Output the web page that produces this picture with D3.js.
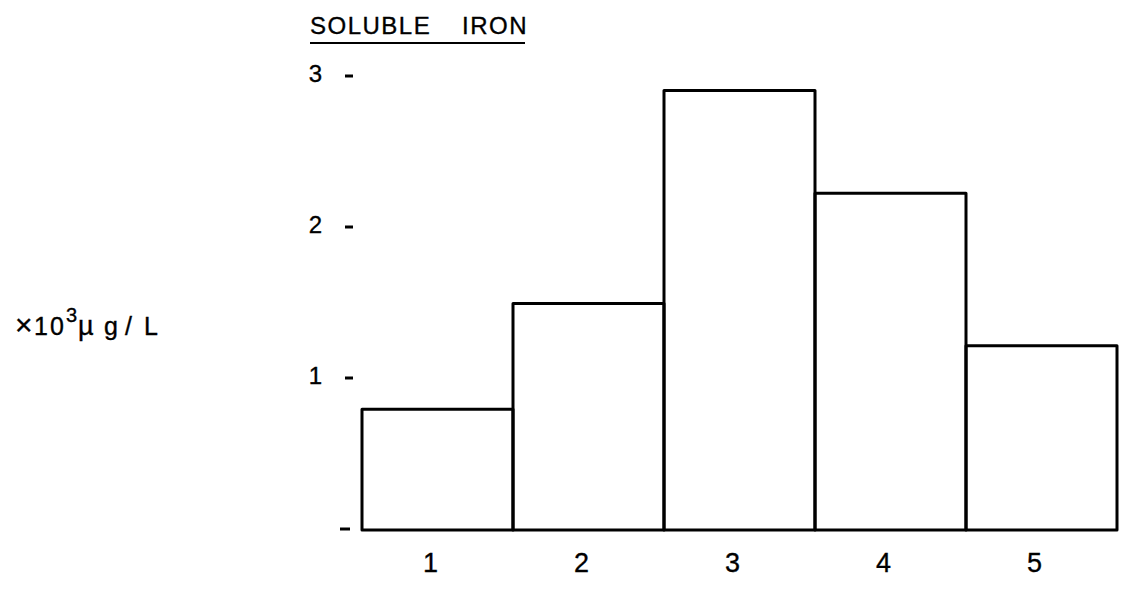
<!DOCTYPE html>
<html>
<head>
<meta charset="utf-8">
<script src="https://cdn.jsdelivr.net/npm/d3@7"></script>
<style>
  html, body { margin: 0; padding: 0; background: #fff; }
  svg text { font-family: "Liberation Sans", "DejaVu Sans", sans-serif; fill: #000; stroke: #000; stroke-width: 0.35px; }
</style>
</head>
<body>
<svg id="chart" width="1133" height="594"></svg>
<script>
// Soluble iron concentration by station (x10^3 µg/L)
const categories = ["1", "2", "3", "4", "5"];
const values = [0.8, 1.5, 2.91, 2.23, 1.22];
const yTicks = [0, 1, 2, 3];
const yTickLabels = ["", "1", "2", "3"];
const titleWords = ["SOLUBLE", "IRON"];

const svg = d3.select("#chart");

const x = d3.scaleBand().domain(categories).range([362, 1117]).padding(0);
const y = d3.scaleLinear().domain([0, 3]).range([530, 77]);

// Bars: open rectangles sharing their edges
svg.append("g")
  .selectAll("rect")
  .data(values)
  .join("rect")
  .attr("x", (d, i) => x(categories[i]))
  .attr("y", d => y(d))
  .attr("width", x.bandwidth())
  .attr("height", d => y(0) - y(d))
  .attr("fill", "none")
  .attr("stroke", "#000")
  .attr("stroke-width", 3)
  .attr("stroke-linejoin", "round");

// X axis labels
const xAxis = d3.axisBottom(x).tickSize(0).tickPadding(0);
const gx = svg.append("g").attr("transform", `translate(-7,${y(0) + 23})`).call(xAxis);
gx.select(".domain").remove();
gx.selectAll("text")
  .attr("dy", "0.72em")
  .style("font-size", "27px")
  .style("font-family", "'Liberation Sans', 'DejaVu Sans', sans-serif");

// Y axis: short dashes with labels to their left
const gy = svg.append("g");
const tick = gy.selectAll("g.tick")
  .data(yTicks)
  .join("g")
  .attr("class", "tick")
  .attr("transform", d => `translate(0,${y(d)})`);
tick.append("line")
  .attr("x1", d => d === 0 ? 340 : 345)
  .attr("x2", d => d === 0 ? 350 : 353)
  .attr("y1", -1).attr("y2", -1)
  .attr("stroke", "#000")
  .attr("stroke-width", 3);
tick.append("text")
  .attr("x", 322)
  .attr("y", -4)
  .attr("dy", "0.36em")
  .attr("text-anchor", "end")
  .style("font-size", "24px")
  .text((d, i) => yTickLabels[i]);

// Title with underline
const title = svg.append("text")
  .attr("x", 310)
  .attr("y", 34)
  .style("font-size", "24px")
  .style("letter-spacing", "1.5px");
title.append("tspan").text(titleWords[0]);
title.append("tspan").attr("x", 462).text(titleWords[1]);
svg.append("line")
  .attr("x1", 310).attr("x2", 525)
  .attr("y1", 43).attr("y2", 43)
  .attr("stroke", "#000")
  .attr("stroke-width", 2);

// Y axis unit label
const unit = svg.append("text")
  .attr("y", 335)
  .style("font-size", "25px");
unit.append("tspan").attr("x", 15).style("font-size", "30px").text("×");
unit.append("tspan").attr("x", 34).style("letter-spacing", "2px").text("10");
unit.append("tspan").attr("x", 66).attr("dy", -13).style("font-size", "20px").text("3");
unit.append("tspan").attr("x", 78).attr("dy", 13).style("font-size", "27px").text("µ");
unit.append("tspan").attr("x", 104).text("g");
unit.append("tspan").attr("x", 125).text("/");
unit.append("tspan").attr("x", 144).text("L");
</script>
</body>
</html>
